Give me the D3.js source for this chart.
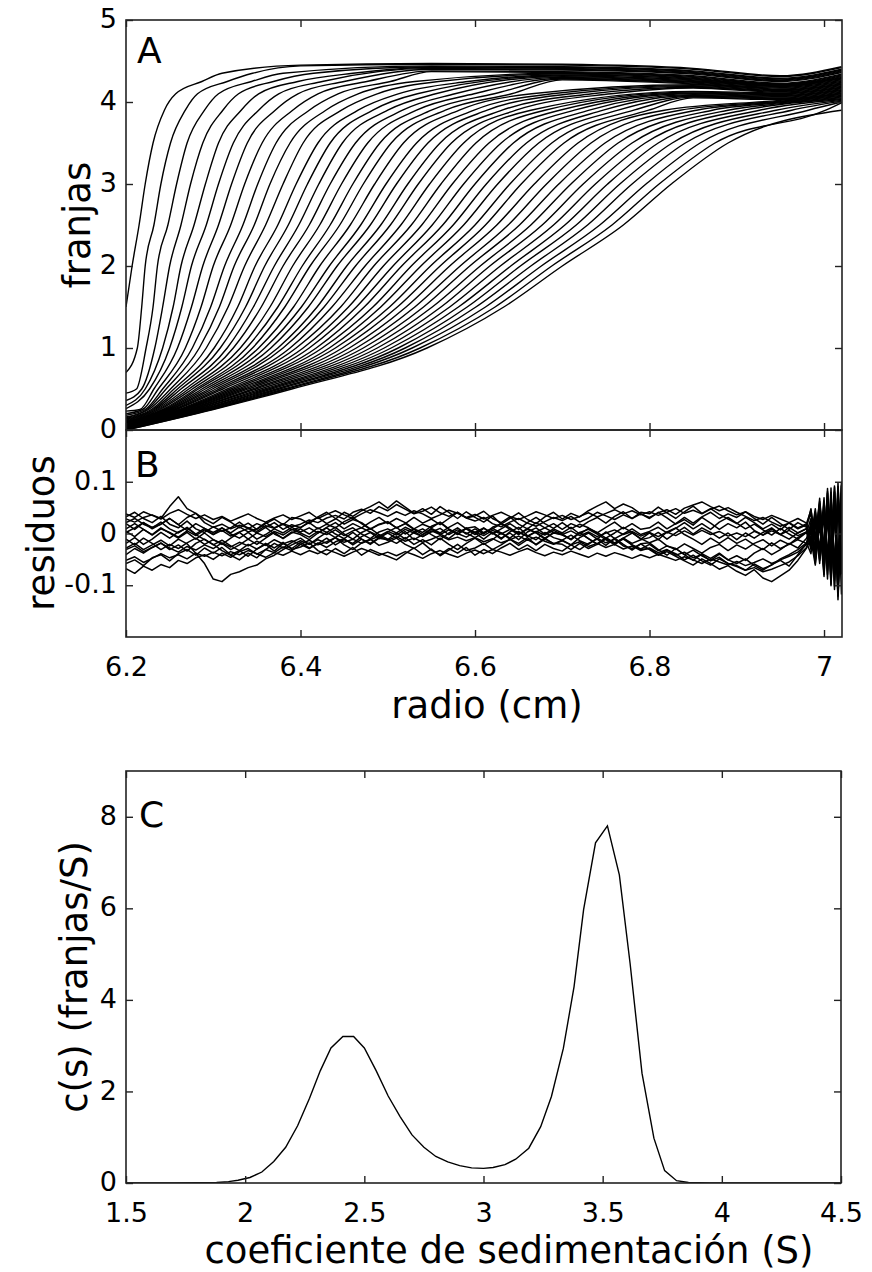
<!DOCTYPE html>
<html>
<head>
<meta charset="utf-8">
<script src="https://cdn.jsdelivr.net/npm/d3@7"></script>
<style>
  body { margin: 0; background: #fff; }
  svg text { font-family: "DejaVu Sans", sans-serif; fill: #000; }
</style>
</head>
<body>
<div id="chart"></div>
<script>
// ---- panel A: scans (fringes vs radius), read as level crossings ----
const fringeLevels = [0.25, 0.5, 1, 1.5, 2, 2.5, 3, 3.5, 3.9, 4.1, 4.25, 4.35];
const scanStart = [1.5,0.7,0.45,0.36,0.30,0.26,0.23,0.20,0.18,0.16,0.15,0.14,0.13,0.12,0.11,0.10,0.09,0.09,0.08,0.08,0.07,0.07,0.06,0.06,0.05,0.05,0.05,0.04,0.04,0.04,0.03,0.03,0.03,0.03,0.02,0.02,0.02,0.02,0.01,0.01,0.01,0.01,0.00,0.00];
const scanCross = [
  [null,null,null,null,6.207,6.215,6.222,6.231,6.244,6.257,6.287,6.310],
  [null,null,6.213,6.218,6.222,6.232,6.240,6.251,6.268,6.282,6.316,6.345],
  [null,6.212,6.223,6.231,6.236,6.248,6.258,6.270,6.290,6.306,6.344,6.380],
  [null,6.218,6.233,6.242,6.250,6.263,6.274,6.288,6.311,6.329,6.369,6.415],
  [null,6.222,6.242,6.254,6.263,6.278,6.291,6.306,6.332,6.352,6.397,6.460],
  [null,6.227,6.250,6.264,6.275,6.292,6.306,6.323,6.352,6.375,6.425,null],
  [6.216,6.232,6.259,6.275,6.288,6.306,6.321,6.339,6.371,6.397,6.450,null],
  [6.219,6.237,6.268,6.286,6.300,6.320,6.336,6.356,6.391,6.420,6.476,null],
  [6.222,6.242,6.276,6.297,6.313,6.334,6.351,6.372,6.410,6.443,6.503,null],
  [6.224,6.246,6.284,6.307,6.324,6.347,6.365,6.388,6.429,6.466,6.531,null],
  [6.226,6.251,6.292,6.317,6.336,6.360,6.380,6.403,6.447,6.488,6.558,null],
  [6.229,6.255,6.301,6.328,6.348,6.374,6.395,6.420,6.466,6.512,6.592,null],
  [6.231,6.259,6.308,6.337,6.359,6.386,6.408,6.434,6.483,6.534,null,null],
  [6.233,6.263,6.316,6.346,6.370,6.398,6.421,6.448,6.500,6.555,null,null],
  [6.235,6.268,6.323,6.355,6.380,6.410,6.434,6.463,6.517,6.577,null,null],
  [6.237,6.272,6.331,6.365,6.391,6.422,6.447,6.477,6.533,6.599,null,null],
  [6.239,6.276,6.338,6.374,6.402,6.434,6.460,6.491,6.550,6.622,null,null],
  [6.242,6.280,6.345,6.382,6.411,6.445,6.472,6.504,6.566,6.642,null,null],
  [6.244,6.283,6.352,6.392,6.422,6.457,6.485,6.518,6.582,6.665,null,null],
  [6.246,6.287,6.359,6.401,6.433,6.469,6.498,6.533,6.599,6.688,null,null],
  [6.248,6.291,6.366,6.409,6.442,6.480,6.510,6.546,6.614,6.710,null,null],
  [6.250,6.295,6.374,6.419,6.453,6.492,6.523,6.560,6.631,6.734,null,null],
  [6.252,6.299,6.380,6.427,6.463,6.503,6.535,6.573,6.647,6.756,null,null],
  [6.254,6.303,6.388,6.436,6.474,6.515,6.548,6.587,6.664,null,null,null],
  [6.256,6.307,6.395,6.446,6.484,6.527,6.561,6.601,6.680,null,null,null],
  [6.258,6.311,6.403,6.455,6.495,6.539,6.574,6.616,6.697,null,null,null],
  [6.261,6.316,6.410,6.464,6.506,6.551,6.587,6.630,6.714,null,null,null],
  [6.263,6.320,6.418,6.473,6.516,6.563,6.600,6.644,6.731,null,null,null],
  [6.265,6.324,6.425,6.483,6.527,6.575,6.613,6.659,6.747,null,null,null],
  [6.267,6.328,6.433,6.492,6.538,6.587,6.626,6.673,6.764,null,null,null],
  [6.269,6.332,6.440,6.502,6.549,6.600,6.640,6.688,6.782,null,null,null],
  [6.272,6.336,6.448,6.511,6.560,6.612,6.653,6.702,6.799,null,null,null],
  [6.274,6.340,6.456,6.521,6.571,6.625,6.668,6.718,6.817,null,null,null],
  [6.276,6.345,6.464,6.531,6.583,6.638,6.682,6.733,6.835,null,null,null],
  [6.278,6.349,6.472,6.541,6.594,6.651,6.696,6.749,6.854,null,null,null],
  [6.281,6.354,6.480,6.551,6.606,6.664,6.710,6.764,6.872,null,null,null],
  [6.283,6.359,6.488,6.561,6.617,6.677,6.724,6.780,6.890,null,null,null],
  [6.286,6.363,6.496,6.571,6.629,6.690,6.738,6.795,6.908,null,null,null],
  [6.288,6.367,6.504,6.581,6.641,6.703,6.752,6.810,6.926,null,null,null],
  [6.290,6.372,6.512,6.591,6.652,6.716,6.766,6.826,6.945,null,null,null],
  [6.293,6.376,6.520,6.601,6.664,6.729,6.780,6.841,6.963,null,null,null],
  [6.295,6.381,6.528,6.612,6.676,6.743,6.796,6.858,6.982,null,null,null],
  [6.298,6.385,6.537,6.623,6.688,6.757,6.811,6.875,7.002,null,null,null],
  [6.300,6.390,6.545,6.633,6.700,6.770,6.825,6.890,7.020,null,null,null]
];
const plateauRadius = [6.40, 6.55, 6.70, 6.85, 6.95, 7.02];
const scanPlateau = [
  [4.45,4.47,4.46,4.41,4.32,4.43],[4.44,4.46,4.45,4.40,4.31,4.42],[4.42,4.44,4.43,4.38,4.29,4.40],
  [4.41,4.43,4.42,4.37,4.28,4.39],[4.40,4.42,4.41,4.36,4.27,4.38],[4.39,4.41,4.40,4.35,4.26,4.37],
  [4.38,4.40,4.39,4.34,4.25,4.36],[4.36,4.38,4.37,4.32,4.23,4.34],[4.35,4.37,4.36,4.31,4.22,4.33],
  [4.34,4.36,4.35,4.30,4.21,4.32],[4.33,4.35,4.34,4.29,4.20,4.31],[4.32,4.34,4.33,4.28,4.19,4.30],
  [4.31,4.33,4.32,4.27,4.22,4.29],[4.30,4.32,4.31,4.26,4.21,4.28],[4.29,4.31,4.30,4.25,4.20,4.27],
  [4.28,4.30,4.29,4.24,4.19,4.26],[4.27,4.29,4.28,4.23,4.18,4.25],[4.26,4.28,4.27,4.22,4.17,4.24],
  [4.25,4.27,4.26,4.21,4.16,4.23],[4.24,4.26,4.25,4.20,4.15,4.22],[4.23,4.25,4.24,4.19,4.14,4.21],
  [4.22,4.24,4.23,4.18,4.13,4.20],[4.21,4.23,4.22,4.17,4.12,4.19],[4.20,4.22,4.21,4.13,4.11,4.18],
  [4.19,4.21,4.20,4.12,4.10,4.17],[4.18,4.20,4.19,4.11,4.09,4.16],[4.17,4.19,4.18,4.10,4.08,4.15],
  [4.16,4.18,4.17,4.09,4.07,4.14],[4.15,4.17,4.16,4.08,4.06,4.13],[4.14,4.16,4.15,4.07,4.05,4.12],
  [4.13,4.15,4.14,4.06,4.04,4.11],[4.12,4.14,4.13,4.05,4.03,4.10],[4.11,4.13,4.12,4.04,4.02,4.09],
  [4.10,4.12,4.11,4.03,4.01,4.08],[4.09,4.11,4.10,4.02,4.00,4.07],[4.08,4.10,4.09,4.01,3.99,4.06],
  [4.07,4.09,4.08,4.00,3.98,4.05],[4.06,4.08,4.07,3.99,3.97,4.04],[4.05,4.07,4.06,3.98,3.96,4.03],
  [4.04,4.06,4.05,3.97,3.95,4.02],[4.03,4.05,4.04,3.96,3.94,4.01],[4.02,4.04,4.03,3.95,3.93,4.00],
  [4.01,4.03,4.02,3.94,3.92,3.99],[4.00,4.02,4.01,3.93,3.91,3.98]
];

// ---- panel B: residuals ----
const residRadius = [6.20,6.21,6.22,6.23,6.24,6.25,6.26,6.27,6.28,6.29,
  6.30,6.31,6.32,6.33,6.34,6.35,6.36,6.37,6.38,6.39,
  6.40,6.41,6.42,6.43,6.44,6.45,6.46,6.47,6.48,6.49,
  6.50,6.51,6.52,6.53,6.54,6.55,6.56,6.57,6.58,6.59,
  6.60,6.61,6.62,6.63,6.64,6.65,6.66,6.67,6.68,6.69,
  6.70,6.71,6.72,6.73,6.74,6.75,6.76,6.77,6.78,6.79,
  6.80,6.81,6.82,6.83,6.84,6.85,6.86,6.87,6.88,6.89,
  6.90,6.91,6.92,6.93,6.94,6.95,6.96,6.97,6.98,
  6.985,6.99,6.995,7.00,7.004,7.008,7.012,7.016,7.02];
const residuals = [
  [.028,.022,.031,.036,.029,.052,.071,.048,.039,.021, .012,.018,.009,.016,.011,.004,.015,.010,.019,.013,
   .018,.026,.021,.030,.035,.028,.041,.047,.039,.052, .044,.056,.047,.038,.043,.051,.040,.033,.041,.030,
   .024,.031,.019,.013,.022,.029,.020,.014,.023,.031, .025,.033,.022,.030,.041,.034,.027,.036,.029,.038,
   .031,.040,.046,.037,.049,.055,.061,.052,.044,.050, .041,.033,.025,.031,.022,.014,.020,.009,.017,
   .038,-.012,.058,-.031,.081,-.052,.092,-.064,.100],
  [-.028,-.019,-.031,-.022,-.013,-.024,-.011,-.020,-.038,-.058, -.088,-.093,-.079,-.074,-.066,-.061,-.049,-.042,-.031,-.022,
   -.014,-.021,-.009,.002,-.008,.004,.011,-.001,-.010,.003, .009,.001,.012,.004,-.006,.003,.010,-.002,.007,.001,
   -.008,.002,.010,.001,-.009,.004,-.006,.003,.011,.002, -.003,-.011,.002,.008,-.001,-.012,-.019,-.009,.001,-.010,
   -.018,-.011,-.024,-.031,-.020,-.029,-.038,-.027,-.021,-.033, -.022,-.030,-.019,-.012,-.024,-.013,-.021,-.008,.003,
   -.028,.031,-.052,.048,-.079,.061,-.102,.072,-.118],
  [-.068,-.077,-.063,-.071,-.060,-.066,-.052,-.058,-.047,-.041, -.050,-.038,-.046,-.035,-.029,-.040,-.031,-.037,-.026,-.033,
   -.021,-.029,-.018,-.027,-.016,-.010,-.022,-.011,-.019,-.008, .001,-.009,.004,-.012,-.002,.008,-.001,-.010,.003,.009,
   -.002,.010,.001,-.011,.003,.012,-.004,-.012,.002,-.008, -.013,-.003,-.014,-.021,-.009,-.018,-.011,-.024,-.029,-.020,
   -.031,-.042,-.035,-.044,-.053,-.061,-.049,-.058,-.069,-.062, -.073,-.081,-.070,-.086,-.093,-.082,-.071,-.052,-.028,
   .004,-.048,.031,-.072,.052,-.091,.063,-.112,.078],
  [-.058,-.051,-.062,-.047,-.041,-.053,-.039,-.031,-.042,-.028, -.038,-.027,-.041,-.033,-.044,-.030,-.021,-.034,-.019,-.029,
   -.017,-.028,-.020,-.009,-.022,-.012,-.019,-.006,.002,-.010, .003,.012,-.001,.009,.002,.014,.021,.008,-.002,.010,
   .013,.001,.009,.019,.011,-.001,.008,.002,-.009,.001, -.002,-.012,.001,-.010,-.020,-.008,-.018,-.009,-.022,-.030,
   -.021,-.033,-.024,-.029,-.041,-.032,-.043,-.052,-.040,-.051, -.058,-.049,-.062,-.071,-.060,-.052,-.063,-.041,-.019,
   .022,-.041,.043,-.061,.069,-.074,.081,-.093,.058],
  [.032,.041,.029,.021,.033,.018,.011,.024,.009,.002, .013,.004,.011,.022,.009,.019,.012,.021,.008,.017,
   .011,.023,.031,.019,.028,.041,.033,.044,.052,.061, .049,.063,.051,.039,.048,.037,.052,.041,.029,.042,
   .031,.022,.034,.018,.029,.040,.027,.019,.032,.041, .028,.039,.032,.044,.053,.061,.048,.057,.050,.038,
   .029,.041,.030,.018,.027,.016,.031,.020,.008,.019, .011,.022,.006,-.003,.009,-.002,.012,.001,.010,
   -.019,.042,-.038,.061,-.058,.079,-.071,.091,-.042],
  [-.041,-.029,-.038,-.027,-.018,-.031,-.022,-.034,-.019,-.011, -.022,-.013,-.024,-.033,-.021,-.030,-.019,-.028,-.017,-.031,
   -.026,-.018,-.033,-.041,-.029,-.039,-.027,-.042,-.031,-.038, -.044,-.051,-.039,-.028,-.041,-.030,-.043,-.032,-.021,-.033,
   -.028,-.019,-.031,-.022,-.011,-.023,-.012,-.021,-.009,-.020, -.013,-.022,-.008,.001,-.011,.003,-.010,-.001,.009,-.002,
   .004,.012,.001,.010,.021,.009,.019,.008,.022,.031, .020,.009,.018,.007,-.003,.010,-.001,-.011,.002,
   .029,-.031,.048,-.042,.061,-.063,.071,-.082,.092],
  [.019,.008,.021,.012,.018,.029,.017,.006,.019,.010, -.002,.011,.001,.013,.003,.009,.021,.011,.018,.007,
   .012,.021,.009,.018,.011,.023,.031,.019,.008,.017, .022,.011,.019,.031,.020,.028,.017,.029,.041,.030,
   .034,.043,.029,.021,.032,.018,.009,.021,.011,.019, .008,.019,.012,.023,.031,.020,.033,.042,.029,.041,
   .038,.051,.040,.029,.042,.053,.039,.048,.037,.028, .019,.031,.021,.009,.018,.007,.021,.011,.019,
   -.012,.048,-.031,.069,-.049,.088,-.062,.079,-.071],
  [-.019,-.008,-.021,-.011,.002,-.009,.003,.011,-.002,-.012, -.021,-.033,-.042,-.051,-.038,-.047,-.031,-.019,-.028,-.017,
   -.009,-.021,-.012,-.019,-.008,-.022,-.031,-.018,-.011,-.023, -.017,-.009,-.021,-.029,-.018,-.032,-.041,-.029,-.038,-.027,
   -.042,-.031,-.039,-.028,-.019,-.031,-.022,-.033,-.021,-.029, -.034,-.022,-.031,-.019,-.011,-.023,-.009,-.021,-.032,-.020,
   -.018,-.031,-.042,-.029,-.041,-.052,-.039,-.048,-.038,-.051, -.043,-.052,-.038,-.029,-.041,-.031,-.019,-.028,-.009,
   .018,-.058,.039,-.079,.058,-.098,.049,-.128,.031],
  [.002,.011,.021,.009,.018,.029,.017,.031,.039,.028, .019,.031,.022,.011,.020,.008,.019,.028,.017,.031,
   .028,.019,.032,.041,.029,.018,.027,.021,.009,.018, .023,.011,.019,.008,-.002,.010,.001,.012,.021,.009,
   .002,.011,-.001,.009,.019,.008,.021,.031,.019,.010, .021,.009,.018,.011,.001,.012,.022,.009,.019,.008,
   .011,.022,.009,.019,.031,.020,.032,.041,.029,.038, .031,.042,.029,.018,.031,.019,.008,.021,.012,
   .048,-.019,.068,-.039,.087,-.049,.079,-.081,.068],
  [.009,.019,.008,-.002,.011,.001,-.009,.002,-.011,.001, -.012,-.021,-.009,.002,-.011,.001,.012,-.001,-.009,.003,
   -.002,-.012,.001,.011,-.001,-.010,.002,-.011,-.021,-.009, -.012,.001,-.011,.002,.009,-.002,-.012,.001,.011,-.001,
   .009,-.001,.012,.019,.008,-.002,.010,.001,-.011,.002, -.001,-.012,.002,-.010,-.021,-.009,-.019,-.011,-.022,-.031,
   -.029,-.041,-.032,-.039,-.051,-.042,-.053,-.061,-.049,-.058, -.062,-.071,-.059,-.068,-.061,-.049,-.041,-.031,-.018,
   -.039,.021,-.058,.039,-.088,.052,-.108,.061,-.079],
  [.021,.029,.018,.011,.022,.009,.001,.012,-.001,.010, .002,.011,-.001,-.009,.002,-.011,-.002,.009,.001,.012,
   .003,.011,.001,.012,.021,.009,.019,.011,.022,.031, .019,.029,.021,.009,.018,.011,.022,.009,-.001,.011,
   .001,-.011,.002,-.009,.001,-.012,.003,.011,-.001,.009, .001,.012,-.001,.010,.002,-.009,.001,.012,.002,-.011,
   .001,-.012,.003,.011,-.002,-.011,-.021,-.009,-.019,-.008, -.019,-.011,-.022,-.031,-.018,-.029,-.021,-.012,-.019,
   .011,-.039,.029,-.052,.041,-.068,.052,-.089,.041],
  [-.011,-.022,-.009,-.019,-.031,-.021,-.029,-.018,-.009,-.021, -.012,-.019,-.031,-.022,-.011,-.021,-.009,.002,-.010,.001,
   .009,-.001,.011,.002,.012,-.001,-.011,.002,.010,-.002, -.011,-.019,-.008,-.021,-.012,-.022,-.009,-.021,-.031,-.019,
   -.009,-.021,-.012,.001,-.011,-.019,-.008,-.022,-.011,-.019, -.021,-.031,-.019,-.029,-.021,-.011,-.022,-.009,-.019,-.012,
   -.008,.002,-.011,.001,.012,-.001,.011,.002,-.009,.001, -.012,.001,-.009,.002,.011,-.002,-.011,.001,.009,
   -.031,.041,-.049,.052,-.071,.069,-.091,.098,-.052],
  [.038,.031,.042,.035,.028,.039,.046,.037,.029,.036, .027,.033,.024,.031,.038,.029,.022,.030,.036,.027,
   .034,.041,.029,.037,.044,.036,.029,.038,.046,.040, .033,.042,.035,.044,.038,.029,.036,.045,.039,.031,
   .037,.028,.035,.041,.033,.027,.034,.042,.036,.029, .035,.027,.033,.040,.032,.039,.046,.038,.044,.036,
   .042,.035,.041,.048,.039,.045,.038,.047,.053,.044, .036,.042,.033,.027,.035,.028,.021,.029,.020,
   .045,-.008,.062,-.027,.078,-.041,.089,-.057,.094],
  [-.052,-.045,-.056,-.048,-.039,-.047,-.041,-.049,-.038,-.044, -.036,-.043,-.035,-.041,-.033,-.039,-.046,-.037,-.042,-.034,
   -.041,-.033,-.039,-.031,-.037,-.044,-.036,-.029,-.035,-.042, -.036,-.043,-.035,-.041,-.048,-.039,-.033,-.040,-.046,-.038,
   -.032,-.039,-.031,-.036,-.042,-.035,-.029,-.037,-.043,-.036, -.041,-.034,-.040,-.046,-.038,-.044,-.037,-.042,-.048,-.041,
   -.047,-.040,-.046,-.052,-.045,-.051,-.058,-.049,-.055,-.061, -.054,-.062,-.056,-.049,-.058,-.051,-.044,-.036,-.021,
   .009,-.052,.027,-.069,.046,-.088,.057,-.109,.049],
  [.004,-.006,.008,-.003,.009,.002,-.007,.005,-.004,.007, -.002,.006,-.005,.003,.010,.001,-.006,.004,-.003,.008,
   .001,-.007,.004,-.002,.007,-.004,.005,.011,.003,-.005, .004,-.003,.008,.001,-.006,.005,-.002,.007,.000,-.007,
   .003,-.004,.006,-.001,.008,.002,-.005,.004,-.003,.006, -.002,.005,-.004,.003,-.006,.001,.007,-.002,.004,-.005,
   .002,-.006,.003,-.004,.005,-.003,.006,-.002,.004,-.005, .001,-.006,.004,-.003,.005,-.002,.006,-.004,.003,
   -.021,.028,-.041,.045,-.062,.058,-.079,.082,-.061],
  [-.031,-.024,-.035,-.027,-.019,-.028,-.036,-.025,-.032,-.022, -.029,-.018,-.026,-.017,-.024,-.015,-.023,-.012,-.020,-.014,
   -.021,-.013,-.022,-.016,-.008,-.017,-.011,-.019,-.012,-.005, -.013,-.006,-.015,-.009,-.017,-.011,-.004,-.012,-.007,-.014,
   -.008,-.016,-.010,-.018,-.012,-.005,-.013,-.007,-.015,-.021, -.014,-.022,-.016,-.025,-.019,-.027,-.021,-.030,-.024,-.033,
   -.028,-.037,-.031,-.042,-.036,-.047,-.041,-.053,-.046,-.058, -.064,-.071,-.066,-.074,-.069,-.062,-.055,-.043,-.027,
   -.012,-.061,.018,-.083,.037,-.101,.044,-.121,.022]
];

// ---- panel C: c(s) distribution ----
const sedCoef = [1.50,1.60,1.70,1.80,1.88,1.93,1.97,2.02,2.07,2.12,2.17,2.22,2.27,2.315,2.36,2.41,2.455,2.50,2.55,2.60,
  2.65,2.70,2.75,2.80,2.85,2.90,2.95,3.00,3.04,3.09,3.135,3.19,3.24,3.285,3.335,3.38,3.42,3.47,3.52,3.57,
  3.615,3.665,3.715,3.76,3.81,3.86,3.95,4.10,4.30,4.50];
const csValues = [0,0,0.002,0.005,0.01,0.03,0.06,0.12,0.24,0.47,0.78,1.25,1.85,2.45,2.95,3.2,3.2,2.95,2.45,1.9,
  1.45,1.05,0.78,0.58,0.46,0.38,0.33,0.32,0.34,0.40,0.52,0.76,1.23,1.89,2.94,4.29,5.97,7.43,7.80,6.73,
  4.80,2.40,0.98,0.27,0.05,0.01,0,0,0,0];

// ticks
const radiusTicks = [6.2, 6.4, 6.6, 6.8, 7];
const radiusTickLabels = ["6.2", "6.4", "6.6", "6.8", "7"];
const fringeTicks = [0, 1, 2, 3, 4, 5];
const residTicks = [-0.1, 0, 0.1];
const residTickLabels = ["-0.1", "0", "0.1"];
const sTicks = [1.5, 2, 2.5, 3, 3.5, 4, 4.5];
const sTickLabels = ["1.5", "2", "2.5", "3", "3.5", "4", "4.5"];
const csTicks = [0, 2, 4, 6, 8];

const W = 872, H = 1272;
const left = 126, right = 842;

const svg = d3.select("#chart").append("svg")
  .attr("width", W).attr("height", H);

const xR = d3.scaleLinear().domain([6.2, 7.0206]).range([left, right]);
const yA = d3.scaleLinear().domain([0, 5]).range([430, 20]);
const yB = d3.scaleLinear().domain([-0.2, 0.2]).range([637, 430]);
const xS = d3.scaleLinear().domain([1.5, 4.5]).range([left, 841]);
const yC = d3.scaleLinear().domain([0, 9]).range([1183, 771]);

function clip(id, x, y) {
  svg.append("clipPath").attr("id", id).append("rect")
    .attr("x", x.range()[0]).attr("y", y.range()[1])
    .attr("width", x.range()[1] - x.range()[0])
    .attr("height", y.range()[0] - y.range()[1]);
}
clip("clipA", xR, yA);
clip("clipB", xR, yB);
clip("clipC", xS, yC);

// box with inward ticks on all sides
function frame(x, y, xt, xl, yt, yl, xPad) {
  const g = svg.append("g");
  const style = sel => {
    sel.select(".domain").remove();
    sel.selectAll("line").attr("stroke", "#222").attr("stroke-width", 1.4);
    sel.attr("font-size", 27).attr("font-family", "DejaVu Sans");
    sel.selectAll("text").attr("fill", "#000");
  };
  g.append("g").attr("transform", `translate(0,${y.range()[0]})`)
    .call(d3.axisBottom(x).tickValues(xt).tickSize(-7).tickPadding(xPad || 20)
      .tickFormat((d, i) => xl ? xl[i] : "")).call(style);
  g.append("g").attr("transform", `translate(0,${y.range()[1]})`)
    .call(d3.axisTop(x).tickValues(xt).tickSize(-7).tickFormat("")).call(style);
  g.append("g").attr("transform", `translate(${x.range()[0]},0)`)
    .call(d3.axisLeft(y).tickValues(yt).tickSize(-7).tickPadding(9)
      .tickFormat((d, i) => yl[i])).call(style)
    .selectAll("text").attr("dy", "0.28em");
  g.append("g").attr("transform", `translate(${x.range()[1]},0)`)
    .call(d3.axisRight(y).tickValues(yt).tickSize(-7).tickFormat("")).call(style);
  g.append("rect")
    .attr("x", x.range()[0]).attr("y", y.range()[1])
    .attr("width", x.range()[1] - x.range()[0])
    .attr("height", y.range()[0] - y.range()[1])
    .attr("fill", "none").attr("stroke", "#222").attr("stroke-width", 1.6);
}

// ---- A ----
function scanPoints(k) {
  const pts = [[6.2, scanStart[k]]];
  scanCross[k].forEach((r, i) => {
    if (r !== null && fringeLevels[i] > scanStart[k]) pts.push([r, fringeLevels[i]]);
  });
  let last = pts[pts.length - 1][0];
  plateauRadius.forEach((r, j) => {
    const gap = j === plateauRadius.length - 1 ? 0.005 : 0.04;
    if (r > last + gap) { pts.push([r, scanPlateau[k][j]]); last = r; }
  });
  return pts;
}
const lineA = d3.line().x(d => xR(d[0])).y(d => yA(d[1])).curve(d3.curveMonotoneX);
svg.append("g").attr("clip-path", "url(#clipA)")
  .selectAll("path").data(scanCross.map((d, k) => scanPoints(k))).enter()
  .append("path").attr("d", lineA)
  .attr("fill", "none").attr("stroke", "#000").attr("stroke-width", 1.4);

frame(xR, yA, radiusTicks, null, fringeTicks, fringeTicks.map(String));

// ---- B ----
const lineB = d3.line().x((d, i) => xR(residRadius[i])).y(d => yB(d));
svg.append("g").attr("clip-path", "url(#clipB)")
  .selectAll("path").data(residuals).enter()
  .append("path").attr("d", lineB)
  .attr("fill", "none").attr("stroke", "#000").attr("stroke-width", 1.5)
  .attr("stroke-linejoin", "round");

frame(xR, yB, radiusTicks, radiusTickLabels, residTicks, residTickLabels);

// ---- C ----
const lineC = d3.line().x((d, i) => xS(sedCoef[i])).y(d => yC(d));
svg.append("g").attr("clip-path", "url(#clipC)")
  .append("path").datum(csValues).attr("d", lineC)
  .attr("fill", "none").attr("stroke", "#000").attr("stroke-width", 1.4);

frame(xS, yC, sTicks, sTickLabels, csTicks, csTicks.map(String), 20);

// panel letters
svg.append("text").attr("x", 137).attr("y", 63).attr("font-size", 36).text("A");
svg.append("text").attr("x", 135).attr("y", 477).attr("font-size", 36).text("B");
svg.append("text").attr("x", 139).attr("y", 827).attr("font-size", 36).text("C");

// axis titles
svg.append("text").attr("x", 487).attr("y", 718).attr("text-anchor", "middle")
  .attr("font-size", 37).text("radio (cm)");
svg.append("text").attr("x", 509).attr("y", 1263).attr("text-anchor", "middle")
  .attr("font-size", 37).text("coeficiente de sedimentación (S)");
svg.append("text").attr("transform", "translate(90,225) rotate(-90)")
  .attr("text-anchor", "middle").attr("font-size", 37).text("franjas");
svg.append("text").attr("transform", "translate(54,533) rotate(-90)")
  .attr("text-anchor", "middle").attr("font-size", 37).text("residuos");
svg.append("text").attr("transform", "translate(87,977) rotate(-90)")
  .attr("text-anchor", "middle").attr("font-size", 37).text("c(s) (franjas/S)");
</script>
</body>
</html>
